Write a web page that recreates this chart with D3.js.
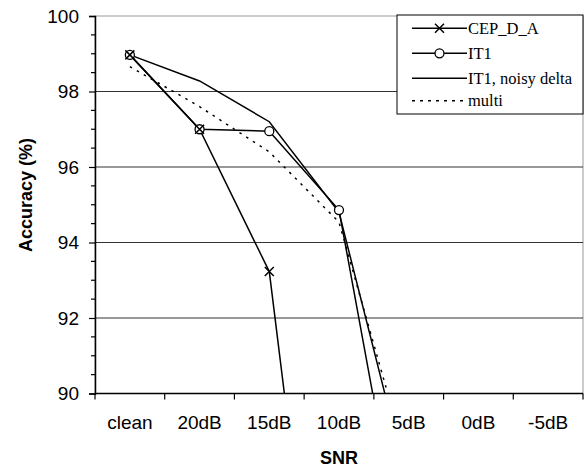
<!DOCTYPE html>
<html>
<head>
<meta charset="utf-8">
<script src="https://cdn.jsdelivr.net/npm/d3@7"></script>
<style>
  body { margin: 0; background: #fff; }
  .tick text { font-family: "Liberation Sans", Arial, sans-serif; }
</style>
</head>
<body>
<div id="chart"></div>
<script>
// categories and series values
var snr = ["clean", "20dB", "15dB", "10dB", "5dB", "0dB", "-5dB"];
var cepDA = [98.97, 97.0, 93.23, 78.3];
var it1 = [98.97, 97.0, 96.95, 94.86, 84.8];
var it1Noisy = [98.97, 98.28, 97.2, 94.8, 87.5];
var multi = [98.66, 97.6, 96.4, 94.54, 88.05];
var yTicks = [90, 92, 94, 96, 98, 100];
var legendNames = ["CEP_D_A", "IT1", "IT1, noisy delta", "multi"];

var width = 588, height = 468;
// note: "top" is taken by window.top, so use plotTop etc.
var plotLeft = 95, plotTop = 16, plotRight = 583, plotBottom = 393.5;

var svg = d3.select("#chart").append("svg")
    .attr("width", width)
    .attr("height", height);

var x = d3.scaleBand()
    .domain(snr)
    .range([plotLeft, plotRight])
    .padding(0);
var y = d3.scaleLinear()
    .domain([90, 100])
    .range([plotBottom, plotTop]);

function cx(c) { return x(c) + x.bandwidth() / 2; }

// plot frame + gridlines
svg.append("rect")
    .attr("x", plotLeft).attr("y", plotTop)
    .attr("width", plotRight - plotLeft).attr("height", plotBottom - plotTop)
    .attr("fill", "none")
    .attr("stroke", "#999")
    .attr("stroke-width", 1);

svg.append("g").selectAll("line")
    .data(yTicks.filter(d => d > 90 && d < 100))
    .enter().append("line")
    .attr("x1", plotLeft).attr("x2", plotRight)
    .attr("y1", d => y(d)).attr("y2", d => y(d))
    .attr("stroke", "#333")
    .attr("stroke-width", 1);

// y axis, major ticks labelled, minor ticks every 0.5
var yAxis = d3.axisLeft(y)
    .tickValues(yTicks)
    .tickSize(6)
    .tickPadding(10)
    .tickFormat(d3.format("d"));
var gy = svg.append("g")
    .attr("transform", "translate(" + plotLeft + ",0)")
    .call(yAxis);
gy.select(".domain").attr("stroke", "#000").attr("stroke-width", 1.5);
gy.selectAll(".tick line").attr("stroke", "#000").attr("stroke-width", 1.2);
gy.selectAll(".tick text").attr("font-size", 19).attr("fill", "#000");

var minor = d3.range(90.5, 100, 0.5).filter(d => d % 2 != 0);
svg.append("g").selectAll("line")
    .data(minor)
    .enter().append("line")
    .attr("x1", plotLeft - 4).attr("x2", plotLeft)
    .attr("y1", d => y(d)).attr("y2", d => y(d))
    .attr("stroke", "#000")
    .attr("stroke-width", 1.2);

// x axis: labels in band centres, ticks on band edges
var xAxis = d3.axisBottom(x).tickSize(0).tickPadding(22);
var gx = svg.append("g")
    .attr("transform", "translate(0," + plotBottom + ")")
    .call(xAxis);
gx.select(".domain").remove();
gx.selectAll(".tick text").attr("font-size", 19).attr("fill", "#000");

var edges = snr.map(c => x(c)).concat([plotRight]);
svg.append("g").selectAll("line")
    .data(edges)
    .enter().append("line")
    .attr("x1", d => d).attr("x2", d => d)
    .attr("y1", plotBottom).attr("y2", plotBottom + 6)
    .attr("stroke", "#000")
    .attr("stroke-width", 1.2);
svg.append("line")
    .attr("x1", plotLeft).attr("x2", plotRight)
    .attr("y1", plotBottom).attr("y2", plotBottom)
    .attr("stroke", "#000")
    .attr("stroke-width", 1.5);

// axis titles
svg.append("text")
    .attr("x", (plotLeft + plotRight) / 2)
    .attr("y", 464)
    .attr("text-anchor", "middle")
    .attr("font-family", "Liberation Sans, Arial, sans-serif")
    .attr("font-weight", "bold")
    .attr("font-size", 18)
    .text("SNR");
svg.append("text")
    .attr("transform", "translate(32,195) rotate(-90)")
    .attr("text-anchor", "middle")
    .attr("font-family", "Liberation Sans, Arial, sans-serif")
    .attr("font-weight", "bold")
    .attr("font-size", 18)
    .text("Accuracy (%)");

// series
svg.append("clipPath")
    .attr("id", "plot")
    .append("rect")
    .attr("x", plotLeft).attr("y", plotTop - 8)
    .attr("width", plotRight - plotLeft).attr("height", plotBottom - plotTop + 8);

var line = d3.line()
    .x((d, i) => cx(snr[i]))
    .y(d => y(d));

var plot = svg.append("g").attr("clip-path", "url(#plot)");

var series = [
  {values: cepDA, dash: null},
  {values: it1, dash: null},
  {values: it1Noisy, dash: null},
  {values: multi, dash: "2.5,5.5"}
];
series.forEach(s => {
  plot.append("path")
      .datum(s.values)
      .attr("d", line)
      .attr("fill", "none")
      .attr("stroke", "#000")
      .attr("stroke-width", 1.5)
      .attr("stroke-dasharray", s.dash);
});

function cross(g, px, py) {
  var r = 4.5;
  g.append("path")
      .attr("d", "M" + (px - r) + "," + (py - r) + "L" + (px + r) + "," + (py + r) +
                 "M" + (px - r) + "," + (py + r) + "L" + (px + r) + "," + (py - r))
      .attr("stroke", "#000")
      .attr("stroke-width", 1.5);
}

plot.selectAll("circle.it1")
    .data(it1)
    .enter().append("circle")
    .attr("class", "it1")
    .attr("cx", (d, i) => cx(snr[i]))
    .attr("cy", d => y(d))
    .attr("r", 4.5)
    .attr("fill", "#fff")
    .attr("stroke", "#000")
    .attr("stroke-width", 1.3);

cepDA.forEach((d, i) => cross(plot, cx(snr[i]), y(d)));

// legend
var lg = svg.append("g");
lg.append("rect")
    .attr("x", 397).attr("y", 15)
    .attr("width", 186).attr("height", 99)
    .attr("fill", "#fff")
    .attr("stroke", "#000")
    .attr("stroke-width", 1);

var rowY = [28.3, 53.3, 78.3, 100.7];
legendNames.forEach((name, i) => {
  var ly = rowY[i];
  lg.append("line")
      .attr("x1", 412).attr("x2", 467)
      .attr("y1", ly).attr("y2", ly)
      .attr("stroke", "#000")
      .attr("stroke-width", 1.5)
      .attr("stroke-dasharray", i == 3 ? "3,5" : null);
  if (i == 0) cross(lg, 439.5, ly);
  if (i == 1) {
    lg.append("circle")
        .attr("cx", 439.5).attr("cy", ly).attr("r", 4.5)
        .attr("fill", "#fff").attr("stroke", "#000").attr("stroke-width", 1.3);
  }
  lg.append("text")
      .attr("x", 468)
      .attr("y", ly + 5.5)
      .attr("font-family", "Liberation Serif, Times New Roman, serif")
      .attr("font-size", 16.5)
      .text(name);
});
</script>
</body>
</html>
